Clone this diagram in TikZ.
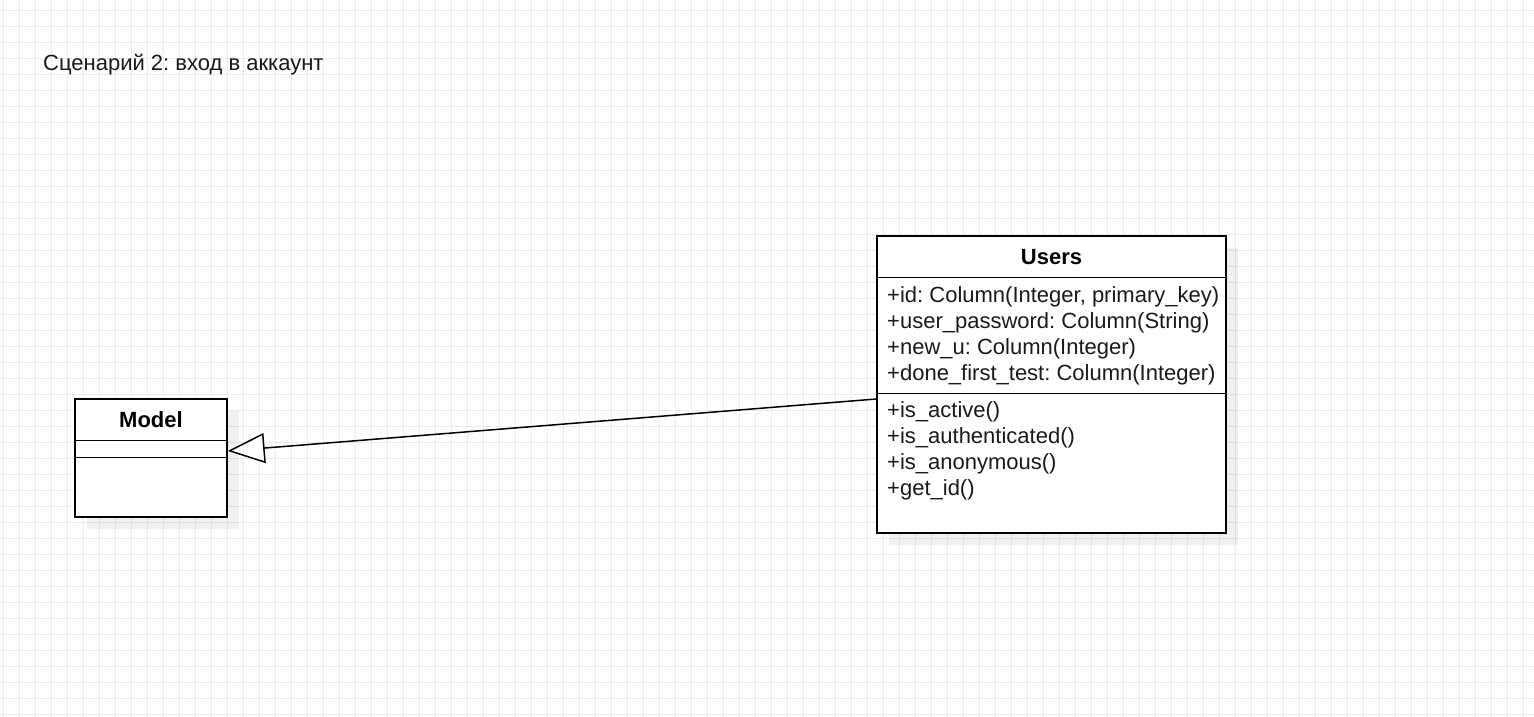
\documentclass[tikz,border=0pt]{standalone}
\usepackage{fontspec}
\setmainfont{Liberation Sans}
\usetikzlibrary{arrows.meta,calc}
\definecolor{gridline}{HTML}{EBEBEB}
\definecolor{ink}{HTML}{1A1A1A}
\frenchspacing
\tikzset{
  classbox/.style={draw=black, line width=1.5pt, fill=white, inner sep=0pt},
  boxshadow/.style={fill=black, fill opacity=0.06, draw=none},
  classname/.style={font=\fontsize{22}{26}\selectfont\bfseries, inner sep=0pt},
  members/.style={font=\fontsize{22}{26}\selectfont, text=ink, inner sep=0pt, align=left, anchor=north west},
  sepline/.style={line width=1.5pt},
  inherit/.style={line width=1.5pt, -{Triangle[length=37pt, width=30pt, fill=white, line width=1.5pt]}},
}
\begin{document}
\begin{tikzpicture}[x=1pt, y=-1pt]
  \useasboundingbox (0,0) rectangle (1534,717);
  % background grid
  \fill[white] (0,0) rectangle (1534,717);
  \foreach \gx in {0,...,95} {
    \draw[gridline, line width=1pt] ({3.3+16*\gx},0) -- ({3.3+16*\gx},717);
  }
  \foreach \gy in {0,...,44} {
    \draw[gridline, line width=1pt] (0,{10.7+16*\gy}) -- (1534,{10.7+16*\gy});
  }

  % scenario caption
  \node[font=\fontsize{22}{26}\selectfont, text=ink, anchor=west, inner sep=0pt] (caption) at (43,64.5) {Сценарий 2: вход в аккаунт};

  % class Model
  \fill[boxshadow] (87,411) rectangle (239,529);
  \node[classbox, minimum width=152pt, minimum height=118pt] (model) at (151,458) {};
  \node[classname] (modelname) at (151,420) {Model};
  \draw[sepline] ($(model.north west)+(0,42)$) -- ($(model.north east)+(0,42)$);
  \draw[sepline] ($(model.north west)+(0,59)$) -- ($(model.north east)+(0,59)$);

  % class Users
  \fill[boxshadow] (889,248) rectangle (1238,545);
  \node[classbox, minimum width=349pt, minimum height=297pt] (users) at (1051.5,384.5) {};
  \node[classname] (usersname) at (1051.5,257) {Users};
  \draw[sepline] ($(users.north west)+(0,42)$) -- ($(users.north east)+(0,42)$);
  \draw[sepline] ($(users.north west)+(0,158)$) -- ($(users.north east)+(0,158)$);
  \node[members] (attrs) at (887,286) {+id: Column(Integer, primary\_key)\\+user\_password: Column(String)\\+new\_u: Column(Integer)\\+done\_first\_test: Column(Integer)};
  \node[members] (ops) at (887,401) {+is\_active()\\+is\_authenticated()\\+is\_anonymous()\\+get\_id()};

  % generalisation Users -> Model
  \draw[inherit] ($(users.west)+(0,14.5)$) -- ($(model.east)+(0,-7)$);
\end{tikzpicture}
\end{document}
